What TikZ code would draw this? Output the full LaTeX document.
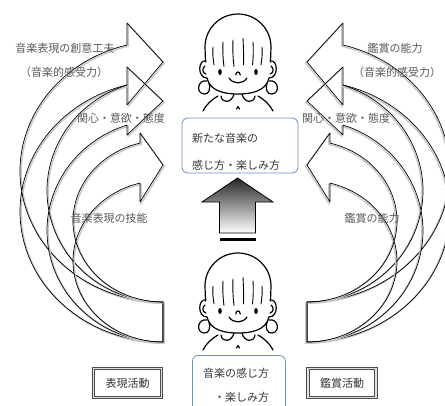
\documentclass[tikz,border=0pt]{standalone}
\usepackage{fontspec}
\newfontfamily\jpfont{Noto Sans CJK JP}
\definecolor{boxblue}{HTML}{6A8FCB}
\tikzset{
  bandline/.style={draw=black, line width=0.7, line join=round},
  bandshade/.style={draw=black!22, line width=1.4},
  arrowtext/.style={text=black!65, font=\jpfont\fontsize{11}{13}\selectfont, inner sep=0},
  infobox/.style={draw=boxblue, line width=0.8, rounded corners=6, fill=white},
  infotext/.style={text=black!78, inner sep=0},
  actbox/.style={draw=black!70, line width=0.9, double=black!12, double distance=1.4,
    minimum width=68, minimum height=29, inner sep=0, text=black!80,
    font=\jpfont\fontsize{11}{13}\selectfont},
  upshaft/.style={draw=black, line width=0.8, top color=black!85, bottom color=white},
  girl/.pic={
    \begin{scope}[line width=1.2, line cap=round, line join=round]
      % hair dome
      \draw (-32.5,15) -- (-33,0) arc[start angle=180, end angle=360, radius=33] -- (32.5,15);
      % jaw line
      \draw (-31,31) .. controls (-28,44) and (-14,47) .. (0,47)
                     .. controls (14,47) and (28,44) .. (31,31);
      \foreach \s in {1,-1}{
        \begin{scope}[xscale=\s]
          % ear
          \draw (-32,14) .. controls (-40,12) and (-41,31) .. (-31,31);
          \draw (-33,19) .. controls (-36,21) and (-36,26) .. (-32,27);
          % hair tie
          \draw (-31,34) .. controls (-40,32) and (-43,46) .. (-34,47)
                         .. controls (-29,48) and (-27,41) .. (-29,36);
          % collar
          \draw (-4,47) .. controls (-6,56) and (-16,57) .. (-17,49);
          % shoulder
          \draw (-20,49) .. controls (-27,53) and (-32,58) .. (-35,64);
          % eye
          \fill (-18,25) ellipse[x radius=1.8, y radius=3];
        \end{scope}
      }
      % button
      \draw (-1.5,62) -- (0,59.5) -- (1.5,62);
      % nose and smile
      \draw (-2.2,28) .. controls (-2.2,24) and (2.2,24) .. (2.2,28);
      \draw (-9,31) .. controls (-5,37.5) and (5,37.5) .. (9,31);
      % fringe
      \begin{scope}[line width=0.9]
        \draw (-25,0) .. controls (-25.5,6) and (-25,12) .. (-24,18);
        \draw (-15,-5) .. controls (-15.5,3) and (-15,12) .. (-14,19.5);
        \draw (-5,-7) .. controls (-5.5,2) and (-5,11) .. (-4,19.5);
        \draw (5,-8.7) .. controls (5.5,0) and (5.8,10) .. (5.5,18);
        \draw (15,-5) .. controls (15.5,3) and (15.3,11) .. (14.5,18);
        \draw (24,0) .. controls (24.5,6) and (24,12) .. (23,18);
      \end{scope}
    \end{scope}
  }
}
\begin{document}
\begin{tikzpicture}[x=1pt, y=-1pt, font=\jpfont]
\useasboundingbox (0,0) rectangle (445,405);
\fill[white] (0,0) rectangle (445,405);
\clip (0,0) rectangle (445,405);

% three curved band arrows on each side, the right side mirrored
\foreach \mx/\sx in {0/1,470/-1}{
  \begin{scope}[shift={(\mx,0)}, xscale=\sx]
    \foreach \ra/\rb/\cy/\ang/\hta/\tipy/\hbo in
      {143/130.6/171.4/255.42/23/62/105,
       116/111.2/190.8/251.92/67/101/135,
       90/80.8/221.2/255.19/133/165/202}{
      \foreach \sty/\dx in {bandshade/1.2, bandline/0}{
        \draw[\sty, shift={(\dx,\dx)}]
          ({163+\ra*cos(\ang)},{\cy+\rb*sin(\ang)})
          arc[start angle=\ang, end angle=90, x radius=\ra, y radius=\rb]
          -- ++(0,40)
          arc[start angle=90, end angle=\ang, x radius=\ra, y radius=\rb]
          -- ({163+\ra*cos(\ang)},\hbo) -- (163,\tipy)
          -- ({163+\ra*cos(\ang)},\hta) -- cycle;
      }
    }
  \end{scope}
}

% arrow labels
\node[arrowtext] (l1) at (65,48) {音楽表現の創意工夫};
\node[arrowtext] (l2) at (64,72) {（音楽的感受力）};
\node[arrowtext] (l3) at (121,118) {関心・意欲・態度};
\node[arrowtext] (l4) at (109,218) {音楽表現の技能};
\node[arrowtext] (r1) at (395,48) {鑑賞の能力};
\node[arrowtext] (r2) at (397,72) {（音楽的感受力）};
\node[arrowtext] (r3) at (346,118) {関心・意欲・態度};
\node[arrowtext] (r4) at (372,218) {鑑賞の能力};

% the two children
\pic (topgirl) at (238,47) {girl};
\pic (bottomgirl) at (238,286) {girl};

% boxes
\node[infobox, minimum width=116, minimum height=55] (newbox) at (240,145.5) {};
\node[infotext, align=left, anchor=west, font=\jpfont\fontsize{11}{27}\selectfont]
  (newtext) at (192,151.5) {新たな音楽の\\感じ方・楽しみ方};
\node[infobox, minimum width=93, minimum height=60, anchor=north west] (oldbox) at (192,355) {};
\node[infotext, align=right, font=\jpfont\fontsize{11}{24}\selectfont]
  (oldtext) at (236,385) {音楽の感じ方\\・楽しみ方};

% upward block arrow with its stripe
\shade[upshaft] (237.5,178) -- (273,202) -- (255.5,202) -- (255.5,233)
  -- (219.5,233) -- (219.5,202) -- (202,202) -- cycle;
\fill (219.5,238) rectangle (255.5,241);

% activity labels
\node[actbox] (hyogen) at (127.5,383) {表現活動};
\node[actbox] (kansho) at (342,383) {鑑賞活動};
\end{tikzpicture}
\end{document}
